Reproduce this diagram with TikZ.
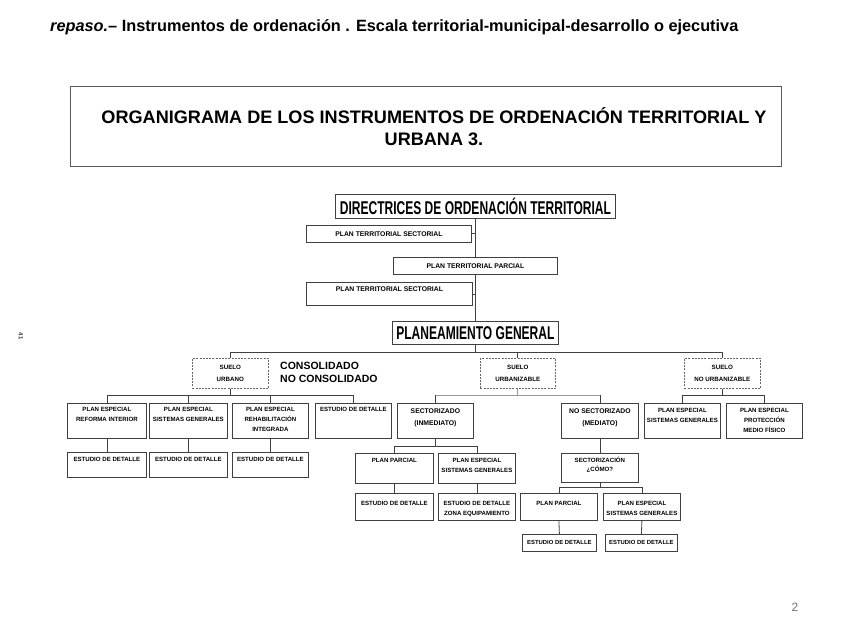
\documentclass[tikz,border=0pt]{standalone}
\usepackage{fontspec}
\setmainfont{Liberation Sans}
\usepackage{graphicx}
\tikzset{
  bxs/.style={draw=black!75, line width=0.8pt, inner xsep=1pt, inner ysep=4pt,
    font=\fontsize{6.1}{10}\selectfont\bfseries, fill=white},
  dsh/.style={draw=black!60, line width=0.7pt, dash pattern=on 2pt off 1.2pt},
  con/.style={draw=black!75, line width=0.8pt},
  lcon/.style={draw=black!40, line width=0.8pt},
  big/.style={font=\fontsize{18.5}{20}\selectfont\bfseries},
}
% \bx[style]{name}{x1}{y1}{x2}{y2}{t|c}{text}
\newcommand{\bx}[8][]{%
  \node[bxs,#1,anchor=north west,minimum width={#5-#3},minimum height={#6-#4}] (#2) at (#3,#4)
    {\parbox[c][\numexpr#6-#4-8\relax pt][#7]{\numexpr#5-#3-2\relax pt}{\centering #8}};}
\newcommand{\tp}[1]{\rule{0pt}{#1pt}}
\begin{document}
\begin{tikzpicture}[x=1pt,y=-1pt]
\useasboundingbox (0,0) rectangle (848,636);
% header
\node[anchor=base west, inner sep=0pt, font=\fontsize{16.3}{18}\selectfont\bfseries] (hdr) at (50,32)
  {\textit{repaso.}– Instrumentos de ordenación . Escala territorial-municipal-desarrollo o ejecutiva};
% title
\node[draw=black!65, line width=1pt, anchor=north west, inner sep=0pt, minimum width=711pt, minimum height=80pt,
  font=\fontsize{18.1}{22}\selectfont\bfseries] (title) at (70,86)
  {\hspace*{16pt}\parbox{695pt}{\centering ORGANIGRAMA DE LOS INSTRUMENTOS DE ORDENACIÓN TERRITORIAL Y\\URBANA 3.}};
% upper chain
\bx[big]{dir}{335}{194}{615}{218}{c}{\scalebox{0.65}[1]{DIRECTRICES DE ORDENACIÓN TERRITORIAL}}
\bx[font=\fontsize{6.8}{10}\selectfont\bfseries]{pts1}{306}{225}{471}{242}{c}{PLAN TERRITORIAL SECTORIAL}
\bx[font=\fontsize{6.8}{10}\selectfont\bfseries]{ptp}{393}{257}{557}{274}{c}{PLAN TERRITORIAL PARCIAL}
\bx[font=\fontsize{6.8}{10}\selectfont\bfseries]{pts2}{306}{282}{472}{305}{t}{PLAN TERRITORIAL SECTORIAL}
\bx[big]{pg}{392}{321}{558}{344}{c}{\scalebox{0.65}[1]{PLANEAMIENTO GENERAL}}
% suelo
\bx[dsh,font=\fontsize{6.2}{12.5}\selectfont\bfseries]{su}{192}{358}{268}{388}{c}{SUELO\\URBANO}
\bx[dsh,font=\fontsize{6.2}{12.5}\selectfont\bfseries]{sz}{480}{358}{555}{388}{c}{SUELO\\URBANIZABLE}
\bx[dsh,font=\fontsize{6.2}{12.5}\selectfont\bfseries]{snu}{684}{358}{760}{388}{c}{SUELO\\NO URBANIZABLE}
\node[anchor=north west, inner sep=0pt, align=left, font=\fontsize{10.5}{13}\selectfont\bfseries] (cons) at (280,362)
  {CONSOLIDADO\\NO CONSOLIDADO};
% level 2
\bx{peri}{67}{403}{146}{438}{t}{PLAN ESPECIAL\\REFORMA INTERIOR}
\bx{pesg1}{149}{403}{227}{438}{t}{PLAN ESPECIAL\\SISTEMAS GENERALES}
\bx{rehab}{232}{403}{308}{438}{t}{PLAN ESPECIAL\\REHABILITACIÓN\\INTEGRADA}
\bx{ed1}{315}{403}{391}{438}{t}{ESTUDIO DE DETALLE}
\bx[font=\fontsize{6.8}{12}\selectfont\bfseries]{sect}{397}{403}{473}{438}{t}{\tp{6}SECTORIZADO\\(INMEDIATO)}
\bx[font=\fontsize{6.8}{12}\selectfont\bfseries]{nosect}{561}{403}{638}{438}{t}{\tp{6}NO SECTORIZADO\\(MEDIATO)}
\bx{pesg2}{644}{403}{720}{438}{t}{\tp{5}PLAN ESPECIAL\\SISTEMAS GENERALES}
\bx{pepmf}{726}{403}{802}{438}{t}{\tp{5}PLAN ESPECIAL\\PROTECCIÓN\\MEDIO FÍSICO}
% level 3 urbano
\bx{ed2}{67}{452}{146}{477}{t}{\tp{5}ESTUDIO DE DETALLE}
\bx{ed3}{149}{452}{227}{477}{t}{\tp{5}ESTUDIO DE DETALLE}
\bx{ed4}{232}{452}{308}{477}{t}{\tp{5}ESTUDIO DE DETALLE}
% under sectorizado
\bx{pp1}{355}{453}{433}{483}{t}{\tp{5}PLAN PARCIAL}
\bx{pesg3}{438}{453}{515}{483}{t}{\tp{5}PLAN ESPECIAL\\SISTEMAS GENERALES}
\bx{ed5}{355}{493}{433}{520}{t}{\tp{8}ESTUDIO DE DETALLE}
\bx{edz}{438}{493}{515}{520}{t}{\tp{8}ESTUDIO DE DETALLE\\ZONA EQUIPAMIENTO}
% under no sectorizado
\bx[font=\fontsize{6.1}{9}\selectfont\bfseries]{scom}{561}{453}{638}{482}{t}{\tp{5}SECTORIZACIÓN\\¿CÓMO?}
\bx{pp2}{520}{493}{597}{520}{t}{\tp{8}PLAN PARCIAL}
\bx{pesg4}{603}{493}{680}{520}{t}{\tp{8}PLAN ESPECIAL\\SISTEMAS GENERALES}
\bx[font=\fontsize{5.9}{8}\selectfont\bfseries]{ed6}{522}{534}{596}{551}{c}{ESTUDIO DE DETALLE}
\bx[font=\fontsize{5.9}{8}\selectfont\bfseries]{ed7}{605}{534}{677}{551}{c}{ESTUDIO DE DETALLE}
% bus levels
\coordinate (b1) at (0,352);
\coordinate (b2) at (0,395);
\coordinate (b3) at (0,446);
\coordinate (b4) at (0,487);
% connectors
\draw[con] (dir.south) -- (ptp.north);
\draw[con] (ptp.south) -- (pg.north);
\draw[con] (pts1.east) -- (pts1.east -| dir.south);
\draw[con] (pts2.east) -- (pts2.east -| dir.south);
\draw[con] (pg.south) -- (pg.south |- b1);
\draw[con] (su.north) -- (su.north |- b1) -- (snu.north |- b1) -- (snu.north);
\draw[con] (sz.north) -- (sz.north |- b1);
\draw[con] (su.south) -- (su.south |- b2);
\draw[con] (peri.north) -- (peri.north |- b2) -- (ed1.north |- b2) -- (ed1.north);
\draw[con] (pesg1.north) -- (pesg1.north |- b2);
\draw[con] (rehab.north) -- (rehab.north |- b2);
\draw[lcon] (sz.south) -- (sz.south |- b2);
\draw[lcon] (sect.north |- b2) -- (nosect.north |- b2);
\draw[con] (sect.north) -- (sect.north |- b2);
\draw[con] (nosect.north) -- (nosect.north |- b2);
\draw[con] (snu.south) -- (snu.south |- b2);
\draw[con] (pesg2.north) -- (pesg2.north |- b2) -- (pepmf.north |- b2) -- (pepmf.north);
\draw[con] (peri.south) -- (ed2.north);
\draw[con] (pesg1.south) -- (ed3.north);
\draw[con] (rehab.south) -- (ed4.north);
\draw[con] (sect.south) -- (sect.south |- b3);
\draw[con] (pp1.north) -- (pp1.north |- b3) -- (pesg3.north |- b3) -- (pesg3.north);
\draw[con] (pp1.south) -- (ed5.north);
\draw[con] (pesg3.south) -- (edz.north);
\draw[con] (nosect.south) -- (scom.north);
\draw[con] (scom.south) -- (scom.south |- b4);
\draw[con] (pp2.north) -- (pp2.north |- b4) -- (pesg4.north |- b4) -- (pesg4.north);
\draw[con] (pp2.south) -- (ed6.north);
\draw[con] (pesg4.south) -- (ed7.north);
% margin marks
\node[rotate=-90, inner sep=0pt, text=black!80, font=\fontsize{6}{7}\selectfont\bfseries] (mark) at (21,336) {41};
\node[inner sep=0pt, text=black!55, font=\fontsize{12}{14}\selectfont] (pnum) at (795,607) {2};
\end{tikzpicture}
\end{document}
